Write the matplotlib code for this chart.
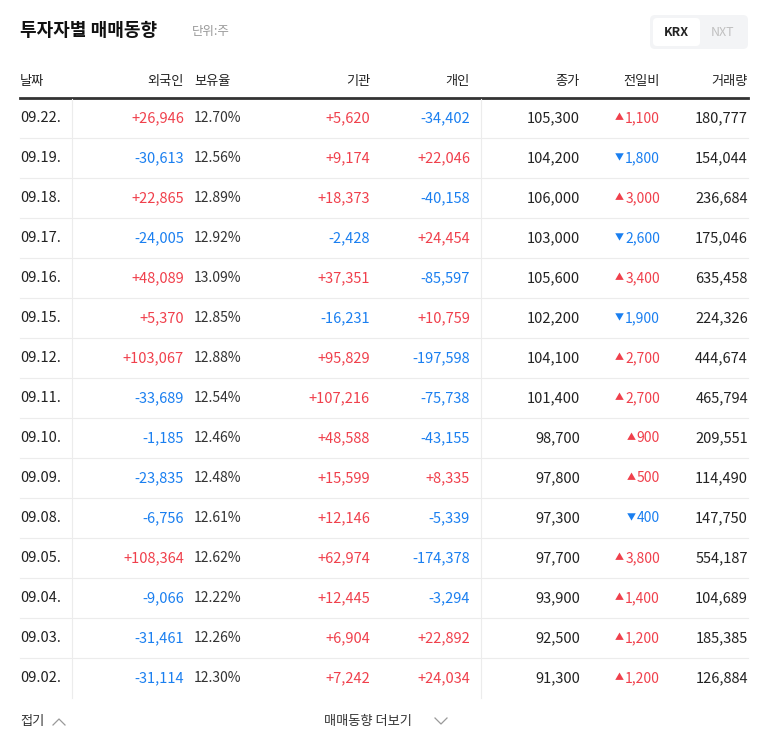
import matplotlib
matplotlib.use("Agg")
import matplotlib.pyplot as plt
from matplotlib.patches import FancyBboxPatch

plt.rcParams["font.family"] = ["Noto Sans CJK JP", "Noto Sans CJK KR", "Noto Sans CJK SC", "DejaVu Sans"]

dates = ["09.22.", "09.19.", "09.18.", "09.17.", "09.16.", "09.15.", "09.12.", "09.11.",
         "09.10.", "09.09.", "09.08.", "09.05.", "09.04.", "09.03.", "09.02."]
foreign = [26946, -30613, 22865, -24005, 48089, 5370, 103067, -33689,
           -1185, -23835, -6756, 108364, -9066, -31461, -31114]
holding = [12.70, 12.56, 12.89, 12.92, 13.09, 12.85, 12.88, 12.54,
           12.46, 12.48, 12.61, 12.62, 12.22, 12.26, 12.30]
institution = [5620, 9174, 18373, -2428, 37351, -16231, 95829, 107216,
               48588, 15599, 12146, 62974, 12445, 6904, 7242]
individual = [-34402, 22046, -40158, 24454, -85597, 10759, -197598, -75738,
              -43155, 8335, -5339, -174378, -3294, 22892, 24034]
close = [105300, 104200, 106000, 103000, 105600, 102200, 104100, 101400,
         98700, 97800, 97300, 97700, 93900, 92500, 91300]
change = [1100, -1800, 3000, -2600, 3400, -1900, 2700, 2700,
          900, 500, -400, 3800, 1400, 1200, 1200]
volume = [180777, 154044, 236684, 175046, 635458, 224326, 444674, 465794,
          209551, 114490, 147750, 554187, 104689, 185385, 126884]
headers = ["날짜", "외국인", "보유율", "기관", "개인", "종가", "전일비", "거래량"]

RED, BLUE, DARK, GRAY = "#f0404c", "#1a7ff0", "#222222", "#999999"

fig = plt.figure(figsize=(7.68, 7.49), dpi=100)
ax = fig.add_axes([0, 0, 1, 1])
ax.set_xlim(0, 768)
ax.set_ylim(749, 0)
ax.axis("off")

# title
ax.text(20, 31, "투자자별 매매동향", fontsize=13, fontweight="bold", color="#111111", va="center")
ax.text(192, 32, "단위:주", fontsize=9, color=GRAY, va="center")

# KRX / NXT toggle
ax.add_patch(FancyBboxPatch((650, 15), 98, 34, boxstyle="round,pad=0,rounding_size=5",
                            fc="#f3f4f6", ec="none"))
ax.add_patch(FancyBboxPatch((653, 18), 47, 28, boxstyle="round,pad=0,rounding_size=4",
                            fc="white", ec="none"))
ax.text(676, 33, "KRX", fontsize=9, fontweight="bold", color=DARK, ha="center", va="center")
ax.text(723, 33, "NXT", fontsize=9, color="#c0c0c0", ha="center", va="center")

# header
hx = [(20, "left"), (184, "right"), (194, "left"), (370, "right"), (470, "right"),
      (580, "right"), (660, "right"), (748, "right")]
for (x, ha), h in zip(hx, headers):
    ax.text(x, 81, h, fontsize=9.5, color=DARK, ha=ha, va="center")
ax.plot([20, 748], [98, 98], color="#333333", lw=2)


def signed(v):
    return f"{v:+,}"


def col(v):
    return RED if v > 0 else BLUE


fs = 10.5
for i, d in enumerate(dates):
    y = 118 + 40 * i
    ax.text(20, y, d, fontsize=fs, color=DARK, va="center")
    ax.text(184, y, signed(foreign[i]), fontsize=fs, color=col(foreign[i]), ha="right", va="center")
    ax.text(194, y, f"{holding[i]:.2f}%", fontsize=fs - 0.5, color="#333333", va="center")
    ax.text(370, y, signed(institution[i]), fontsize=fs, color=col(institution[i]), ha="right", va="center")
    ax.text(470, y, signed(individual[i]), fontsize=fs, color=col(individual[i]), ha="right", va="center")
    ax.text(580, y, f"{close[i]:,}", fontsize=fs, color=DARK, ha="right", va="center")
    c = change[i]
    num = ax.text(660, y, f"{abs(c):,}", fontsize=fs - 0.5, color=col(c), ha="right", va="center")
    ax.annotate("▲" if c > 0 else "▼", xy=(0, 0.5), xycoords=num, xytext=(-1, 0),
                textcoords="offset points", fontsize=6.5, color=col(c), ha="right", va="center")
    ax.text(748, y, f"{volume[i]:,}", fontsize=fs, color=DARK, ha="right", va="center")
    if i < len(dates) - 1:
        ax.plot([20, 748], [y + 20, y + 20], color="#ececec", lw=0.8)

for x in (72, 481):
    ax.plot([x, x], [99, 698], color="#ececec", lw=0.8)

# footer
ax.text(20, 721, "접기", fontsize=9.5, color="#333333", va="center")
ax.plot([53, 59, 65], [725, 719, 725], color=GRAY, lw=0.9)
ax.text(324, 721, "매매동향 더보기", fontsize=9.5, color="#333333", va="center")
ax.plot([435, 441, 447], [718, 724, 718], color=GRAY, lw=0.9)

fig.savefig("out.png", dpi=100, facecolor="white")
